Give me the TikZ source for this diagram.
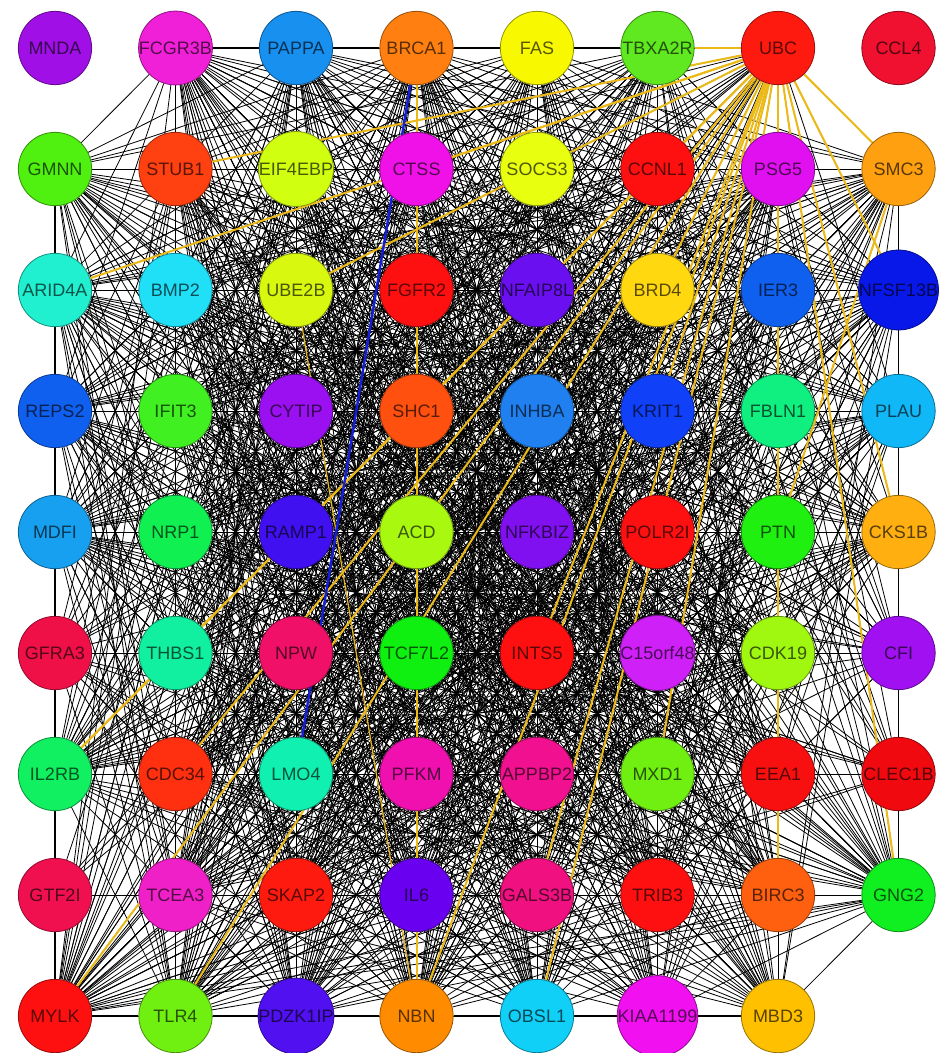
\documentclass[tikz,border=0pt]{standalone}
\usepackage{fontspec}
\setmainfont{Liberation Sans}
\definecolor{goldlink}{RGB}{236,186,24}
\definecolor{bluelink}{RGB}{20,30,220}
\pgfdeclarelayer{edges}
\pgfdeclarelayer{hubs}
\pgfsetlayers{edges,hubs,main}
\tikzset{
  gene/.style={circle, draw=gcol!60!black, line width=0.6pt, fill=gcol,
    text=gcol!35!black, minimum size=55pt, inner sep=0pt,
    font=\fontsize{13.5}{15}\selectfont},
  link/.style={black, line width=0.6pt},
  rimlink/.style={black, line width=1.2pt},
  ubclink/.style={goldlink, line width=1.5pt},
  brcalink/.style={bluelink, line width=1.8pt},
}
\begin{document}
\begin{tikzpicture}[x=0.75pt, y=-0.75pt]
    \useasboundingbox (0,0) rectangle (940,1053);
    % Genes (index = 8*row + column)
    \foreach \k/\t/\col/\w in {
      0/MNDA/A010E6/0, 1/FCGR3B/F020D8/9, 2/PAPPA/1890F0/9, 3/BRCA1/FF8010/9,
      4/FAS/F8F800/9, 5/TBXA2R/60E820/9, 6/UBC/FF1A10/8, 7/CCL4/F01030/0,
      8/GMNN/50F010/9, 9/STUB1/FF4010/9, 10/EIF4EBP/D0FF10/9, 11/CTSS/F010E8/9,
      12/SOCS3/E8FF10/9, 13/CCNL1/FF1010/9, 14/PSG5/E010F0/9, 15/SMC3/FFA010/8,
      16/ARID4A/20F0D0/9, 17/BMP2/20E0F8/9, 18/UBE2B/D8F810/9, 19/FGFR2/FF1010/9,
      20/NFAIP8L/6A10F0/9, 21/BRD4/FFD810/9, 22/IER3/1060F0/9, 23/NFSF13B/0818E8/8,
      24/REPS2/1060F0/9, 25/IFIT3/40F020/9, 26/CYTIP/9A10F0/9, 27/SHC1/FF5010/9,
      28/INHBA/2080F0/9, 29/KRIT1/1040F8/9, 30/FBLN1/10F080/9, 31/PLAU/10B8F8/8,
      32/MDFI/18A0F0/9, 33/NRP1/10F050/9, 34/RAMP1/4010F0/9, 35/ACD/A8F810/9,
      36/NFKBIZ/8010F0/9, 37/POLR2I/FF1010/9, 38/PTN/20F010/9, 39/CKS1B/FFB010/8,
      40/GFRA3/F01048/3, 41/THBS1/10F0A0/9, 42/NPW/F01068/9, 43/TCF7L2/10F010/9,
      44/INTS5/FF1010/9, 45/C15orf48/D020F8/9, 46/CDK19/A0F810/9, 47/CFI/A010F0/4,
      48/IL2RB/10F060/9, 49/CDC34/FF3010/9, 50/LMO4/10F0B0/9, 51/PFKM/F010B0/9,
      52/APPBP2/F01090/9, 53/MXD1/70F010/9, 54/EEA1/F81010/9, 55/CLEC1B/F00A10/3,
      56/GTF2I/F01050/3, 57/TCEA3/F020C8/9, 58/SKAP2/FF1A10/9, 59/IL6/6A00F0/9,
      60/GALS3B/F01080/9, 61/TRIB3/FF1010/9, 62/BIRC3/FF6010/9, 63/GNG2/10F020/9,
      64/MYLK/FF1010/9, 65/TLR4/70F010/9, 66/PDZK1IP/5010F0/9, 67/NBN/FF8C00/9,
      68/OBSL1/10D0F8/9, 69/KIAA1199/F010F0/9, 70/MBD3/FFC000/9}{
      \pgfmathtruncatemacro\r{\k/8}
      \pgfmathtruncatemacro\c{mod(\k,8)}
      \definecolor{gcol}{HTML}{\col}
      \node[gene, alias=\t] (n\k) at (55+120.5*\c, 48+121*\r) {\t};
      \expandafter\xdef\csname gw\k\endcsname{\w}
    }
    % Interaction mesh
    \begin{pgfonlayer}{edges}
    \foreach \a in {1,...,69}{
      \pgfmathtruncatemacro\s{\a+1}
      \foreach \b in {\s,...,70}{
        \edef\hx{\the\numexpr \a*\b*13+\a*\a*3+\b*\b*5+\a*7+\b*11\relax}
        \edef\hh{\the\numexpr \hx-100*((\hx-50)/100)\relax}
        \ifnum\hh<\numexpr\csname gw\a\endcsname*\csname gw\b\endcsname\relax
          \draw[link] (n\a) -- (n\b);
        \fi
      }
    }
    % Rim
    \draw[rimlink] (FCGR3B) -- (PAPPA) -- (BRCA1) -- (FAS) -- (TBXA2R) -- (UBC);
    \draw[rimlink] (GMNN) -- (ARID4A) -- (REPS2) -- (MDFI) -- (GFRA3) -- (IL2RB) -- (GTF2I) -- (MYLK);
    \draw[rimlink] (MYLK) -- (TLR4) -- (PDZK1IP) -- (NBN) -- (OBSL1) -- (KIAA1199) -- (MBD3);
    \draw[rimlink] (SMC3) -- (NFSF13B) -- (PLAU) -- (CKS1B) -- (CFI) -- (CLEC1B) -- (GNG2);
    \end{pgfonlayer}
    % UBC hub
    \begin{pgfonlayer}{hubs}
    \foreach \t in {TBXA2R, STUB1, ARID4A, UBE2B, CTSS, CCNL1, PSG5, SMC3, BRD4,
      IER3, NFSF13B, KRIT1, FBLN1, CKS1B, PTN, INTS5, IL2RB, CDC34, MYLK, TLR4,
      NBN, OBSL1, GALS3B, MXD1, CDK19, BIRC3, GNG2}
      \draw[ubclink] (UBC) -- (\t);
    \draw[ubclink] (BRCA1) -- (NBN);
    \draw[ubclink, line width=0.9pt] (UBE2B) -- (NBN);
    \draw[ubclink] (IL2RB) -- (CCNL1);
    \draw[ubclink] (SMC3) -- (PTN);
    \draw[brcalink] (BRCA1) -- (LMO4);
    \end{pgfonlayer}
\end{tikzpicture}
\end{document}
